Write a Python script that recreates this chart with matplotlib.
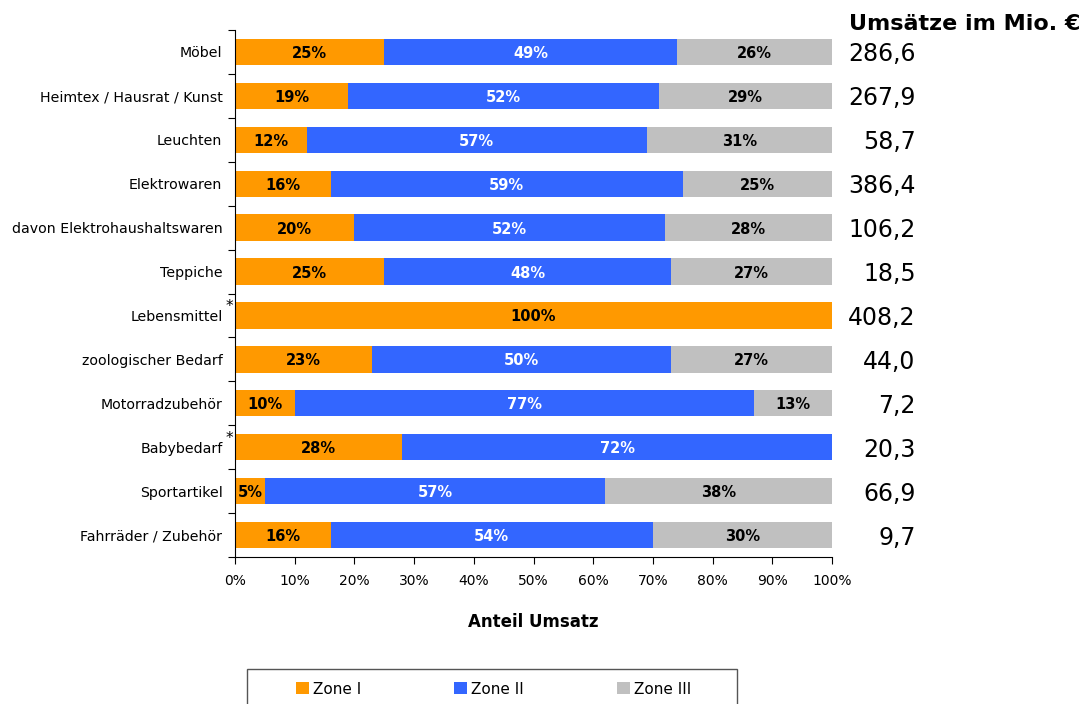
import matplotlib
matplotlib.use("Agg")
import matplotlib.pyplot as plt
from matplotlib.patches import Rectangle, Patch
import numpy as np

plt.rcParams['font.family'] = ['DejaVu Sans']

categories = ["Möbel", "Heimtex / Hausrat / Kunst", "Leuchten", "Elektrowaren",
              "davon Elektrohaushaltswaren", "Teppiche", "Lebensmittel",
              "zoologischer Bedarf", "Motorradzubehör", "Babybedarf",
              "Sportartikel", "Fahrräder / Zubehör"]
zone1 = [25, 19, 12, 16, 20, 25, 100, 23, 10, 28, 5, 16]
zone2 = [49, 52, 57, 59, 52, 48, 0, 50, 77, 72, 57, 54]
zone3 = [26, 29, 31, 25, 28, 27, 0, 27, 13, 0, 38, 30]
umsatz = ["286,6", "267,9", "58,7", "386,4", "106,2", "18,5", "408,2",
          "44,0", "7,2", "20,3", "66,9", "9,7"]
starred = ["Lebensmittel", "Babybedarf"]
series_names = ["Zone I", "Zone II", "Zone III"]
colors = ["#FF9900", "#3366FF", "#C0C0C0"]
text_colors = ["black", "white", "black"]

W, H = 1090, 704
fig = plt.figure(figsize=(W / 100, H / 100), dpi=100)
ax = fig.add_axes([235 / W, 1 - 557 / H, 597 / W, 527 / H])

n = len(categories)
y = np.arange(n)
left = np.zeros(n)
for vals, col, tcol in zip([zone1, zone2, zone3], colors, text_colors):
    vals = np.array(vals, dtype=float)
    ax.barh(y, vals, left=left, height=0.6, color=col, edgecolor='none')
    for yi, (l, v) in enumerate(zip(left, vals)):
        if v > 0:
            ax.text(l + v / 2, yi, f"{int(round(v))}%", ha='center',
                    va='center_baseline', fontsize=10.5, fontweight='bold',
                    color=tcol)
    left += vals

ax.set_xlim(0, 100)
ax.set_ylim(n - 0.5, -0.5)
ax.set_xticks(np.arange(0, 101, 10))
ax.set_xticklabels([f"{v}%" for v in range(0, 101, 10)], fontsize=10)
ax.set_yticks(np.arange(-0.5, n, 1))
ax.set_yticklabels([])
ax.set_yticks(y, minor=True)
ax.set_yticklabels(categories, minor=True, fontsize=10.2)
ax.tick_params(axis='y', which='minor', length=0, pad=9)
ax.tick_params(axis='y', which='major', length=5, direction='out')
ax.tick_params(axis='x', length=5, direction='out', pad=7)
for s in ['top', 'right']:
    ax.spines[s].set_visible(False)
ax.set_xlabel("Anteil Umsatz", fontsize=12, fontweight='bold', labelpad=18)

for i, c in enumerate(categories):
    if c in starred:
        ax.text(-1.0, i - 0.2, "*", ha='center', va='center', fontsize=11,
                clip_on=False)

# right-hand totals (Umsätze in Mio. €)
for i, u in enumerate(umsatz):
    ax.text(114.0, i, u, ha='right', va='center_baseline', fontsize=17,
            clip_on=False)
fig.text(849 / W, 1 - 24 / H, "Umsätze im Mio. €", ha='left', va='center',
         fontsize=16, fontweight='bold')

# legend frame
fig.patches.append(Rectangle((247 / W, 1 - 720 / H), 490 / W, 51 / H,
                             transform=fig.transFigure, facecolor='white',
                             edgecolor='#555555', linewidth=1))
handles = [Patch(facecolor=c, edgecolor='none') for c in colors]
fig.legend(handles, series_names, loc='center left',
           bbox_to_anchor=(296 / W, 1 - 689 / H), ncol=3, frameon=False,
           fontsize=11, handlelength=0.85, handleheight=0.85, handletextpad=0.26,
           columnspacing=6.1, borderaxespad=0, borderpad=0)

fig.savefig("out.png", dpi=100)
